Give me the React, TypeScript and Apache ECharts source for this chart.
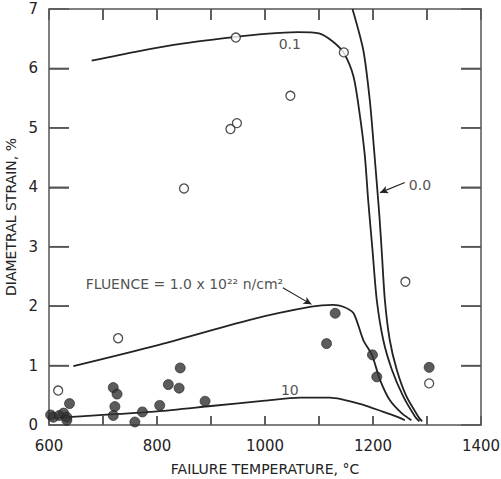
import React, { useEffect, useRef } from "react";
import * as echarts from "echarts";

// Tick labels
const xTickLabels = ["600", "800", "1000", "1200", "1400"];
const yTickLabels = ["0", "1", "2", "3", "4", "5", "6", "7"];

// Tick positions (values) for the frame ticks
const xTickValues = [700, 800, 900, 1000, 1100, 1200, 1300];
const yTickValues = [1, 2, 3, 4, 5, 6];

// Open circles (hollow markers)
const openX = [617, 728, 850, 936, 948, 946, 1047, 1146, 1260, 1304];
const openY = [0.58, 1.46, 3.98, 4.98, 5.08, 6.52, 5.54, 6.27, 2.41, 0.7];

// Filled circles
const filledX = [599, 603, 608, 619, 627, 633, 633, 638, 719, 726, 722, 719, 759, 773, 805, 821, 841, 843, 889, 1114, 1130, 1199, 1207, 1304];
const filledY = [0.21, 0.17, 0.13, 0.16, 0.2, 0.13, 0.08, 0.36, 0.63, 0.52, 0.31, 0.16, 0.05, 0.22, 0.33, 0.68, 0.62, 0.96, 0.4, 1.37, 1.88, 1.18, 0.81, 0.97];

// Curve: fluence 0.1
const c01X = [679, 760, 850, 946, 1000, 1060, 1100, 1126, 1146, 1164, 1176, 1185, 1191, 1199, 1207, 1219, 1235, 1256, 1278, 1286];
const c01Y = [6.13, 6.28, 6.42, 6.53, 6.58, 6.61, 6.59, 6.45, 6.26, 5.86, 5.19, 4.52, 3.79, 2.95, 2.1, 1.43, 0.93, 0.48, 0.14, 0.06];

// Curve: fluence 0.0
const c00X = [1162, 1182, 1194, 1202, 1208, 1212, 1216, 1222, 1231, 1244, 1262, 1284, 1291];
const c00Y = [7.0, 6.31, 5.47, 4.63, 3.96, 3.5, 2.95, 2.1, 1.43, 0.93, 0.48, 0.14, 0.06];

// Curve: fluence 1.0
const c10X = [645, 800, 972, 1086, 1126, 1145, 1164, 1182, 1198, 1213, 1231, 1253, 1271];
const c10Y = [0.99, 1.34, 1.77, 1.99, 2.02, 1.99, 1.88, 1.43, 1.18, 0.76, 0.42, 0.2, 0.08];

// Curve: fluence 10
const c100X = [610, 700, 800, 900, 1000, 1065, 1120, 1182, 1219, 1244, 1259];
const c100Y = [0.12, 0.17, 0.23, 0.32, 0.41, 0.46, 0.46, 0.34, 0.22, 0.14, 0.08];

// Curve annotations
const annoText = ["0.1", "0.0", "10"];
const annoX = [1046, 1287, 1046];
const annoY = [6.41, 4.04, 0.59];

const fluenceText = "FLUENCE = 1.0 x 10²² n/cm²";
const fluenceLabelX = 668;
const fluenceLabelY = 2.37;

// Leader lines [fromX, fromY, toX, toY]
const leader00 = [1259, 4.08, 1213, 3.91];
const leaderFluence = [1033, 2.31, 1086, 2.03];

const X_MIN = 600, X_MAX = 1400, Y_MIN = 0, Y_MAX = 7;

const zip = (xs: number[], ys: number[]) => xs.map((x, i) => [x, ys[i]]);

const INK = "#232323";
const AXIS = "#555555";
const FONT = "DejaVu Sans";

// side codes: 0 bottom, 1 top, 2 left, 3 right
const tickData = [
  ...xTickValues.map((v) => [v, Y_MIN, 0]),
  ...xTickValues.map((v) => [v, Y_MAX, 1]),
  ...yTickValues.map((v) => [X_MIN, v, 2]),
  ...yTickValues.map((v) => [X_MAX, v, 3]),
];
const tickLen = [9, 11, 20, 20];

export default function App() {
  const ref = useRef<HTMLDivElement>(null);

  useEffect(() => {
    if (!ref.current) return;
    const chart = echarts.init(ref.current, undefined, { renderer: "svg" });

    const curve = (name: string, xs: number[], ys: number[]) => ({
      name,
      type: "line",
      data: zip(xs, ys),
      showSymbol: false,
      smooth: 0.25,
      lineStyle: { color: INK, width: 1.8 },
      silent: true,
      z: 2,
    });

    const axisLine = () => ({ show: true, onZero: false, lineStyle: { color: AXIS, width: 1.5 } });
    const tick = (length: number) => ({ show: true, inside: true, length, lineStyle: { color: AXIS, width: 1.5 } });

    const option: any = {
      animation: false,
      backgroundColor: "#ffffff",
      grid: { left: 49, right: 20, top: 9, bottom: 54, outerBoundsMode: "none" },
      xAxis: [
        {
          type: "value",
          min: X_MIN,
          max: X_MAX,
          interval: 100,
          position: "bottom",
          name: "FAILURE TEMPERATURE, °C",
          nameLocation: "middle",
          nameGap: 37,
          nameTextStyle: { fontFamily: FONT, fontSize: 14, color: INK },
          axisLine: axisLine(),
          axisTick: tick(tickLen[0]),
          axisLabel: {
            margin: 13,
            fontFamily: FONT,
            fontSize: 15,
            color: INK,
            formatter: (v: number) => (xTickLabels.includes(String(v)) ? String(v) : ""),
          },
          splitLine: { show: false },
        },
        {
          type: "value",
          min: X_MIN,
          max: X_MAX,
          interval: 100,
          position: "top",
          axisLine: axisLine(),
          axisTick: tick(tickLen[1]),
          axisLabel: { show: false },
          splitLine: { show: false },
        },
      ],
      yAxis: [
        {
          type: "value",
          min: Y_MIN,
          max: Y_MAX,
          interval: 1,
          position: "left",
          name: "DIAMETRAL STRAIN, %",
          nameLocation: "middle",
          nameGap: 27,
          nameTextStyle: { fontFamily: FONT, fontSize: 14, color: INK },
          axisLine: axisLine(),
          axisTick: tick(tickLen[2]),
          axisLabel: {
            margin: 11,
            fontFamily: FONT,
            fontSize: 15,
            color: INK,
            formatter: (v: number) => (yTickLabels.includes(String(v)) ? String(v) : ""),
          },
          splitLine: { show: false },
        },
        {
          type: "value",
          min: Y_MIN,
          max: Y_MAX,
          interval: 1,
          position: "right",
          axisLine: axisLine(),
          axisTick: tick(tickLen[3]),
          axisLabel: { show: false },
          splitLine: { show: false },
        },
      ],
      series: [
        {
          name: "frame ticks",
          type: "custom",
          silent: true,
          clip: false,
          z: 1,
          data: tickData,
          renderItem: (_params: any, api: any) => {
            const side = api.value(2);
            const p = api.coord([api.value(0), api.value(1)]);
            const len = tickLen[side];
            const dx = side === 2 ? len : side === 3 ? -len : 0;
            const dy = side === 0 ? -len : side === 1 ? len : 0;
            return {
              type: "line",
              shape: { x1: p[0], y1: p[1], x2: p[0] + dx, y2: p[1] + dy },
              style: { stroke: AXIS, lineWidth: 1.5 },
            };
          },
        },
        curve("fluence 0.1", c01X, c01Y),
        curve("fluence 0.0", c00X, c00Y),
        curve("fluence 1.0", c10X, c10Y),
        curve("fluence 10", c100X, c100Y),
        {
          name: "open",
          type: "scatter",
          data: zip(openX, openY),
          symbol: "circle",
          symbolSize: 9,
          itemStyle: { color: "#ffffff", borderColor: INK, borderWidth: 1.3 },
          z: 4,
        },
        {
          name: "filled",
          type: "scatter",
          data: zip(filledX, filledY),
          symbol: "circle",
          symbolSize: 10,
          itemStyle: { color: "#333333", borderColor: "#1e1e1e", borderWidth: 0.8 },
          z: 4,
        },
        {
          name: "annotations",
          type: "scatter",
          symbolSize: 0,
          silent: true,
          z: 5,
          data: [
            ...annoText.map((t, i) => ({
              value: [annoX[i], annoY[i]],
              label: { show: true, position: "inside", formatter: t, fontFamily: FONT, fontSize: 14, color: INK },
            })),
            {
              value: [fluenceLabelX, fluenceLabelY],
              label: {
                show: true,
                position: "inside",
                align: "left",
                formatter: fluenceText,
                fontFamily: FONT,
                fontSize: 14,
                color: INK,
              },
            },
          ],
        },
        {
          name: "leaders",
          type: "line",
          data: [],
          silent: true,
          z: 3,
          markLine: {
            silent: true,
            symbol: ["none", "arrow"],
            symbolSize: [6, 8],
            label: { show: false },
            lineStyle: { color: INK, width: 1.1, type: "solid" },
            data: [
              [{ coord: [leader00[0], leader00[1]] }, { coord: [leader00[2], leader00[3]] }],
              [{ coord: [leaderFluence[0], leaderFluence[1]] }, { coord: [leaderFluence[2], leaderFluence[3]] }],
            ],
          },
        },
      ],
    };

    chart.setOption(option);
    return () => chart.dispose();
  }, []);

  return <div ref={ref} style={{ position: "absolute", left: 0, top: 0, width: 501, height: 479 }} />;
}
